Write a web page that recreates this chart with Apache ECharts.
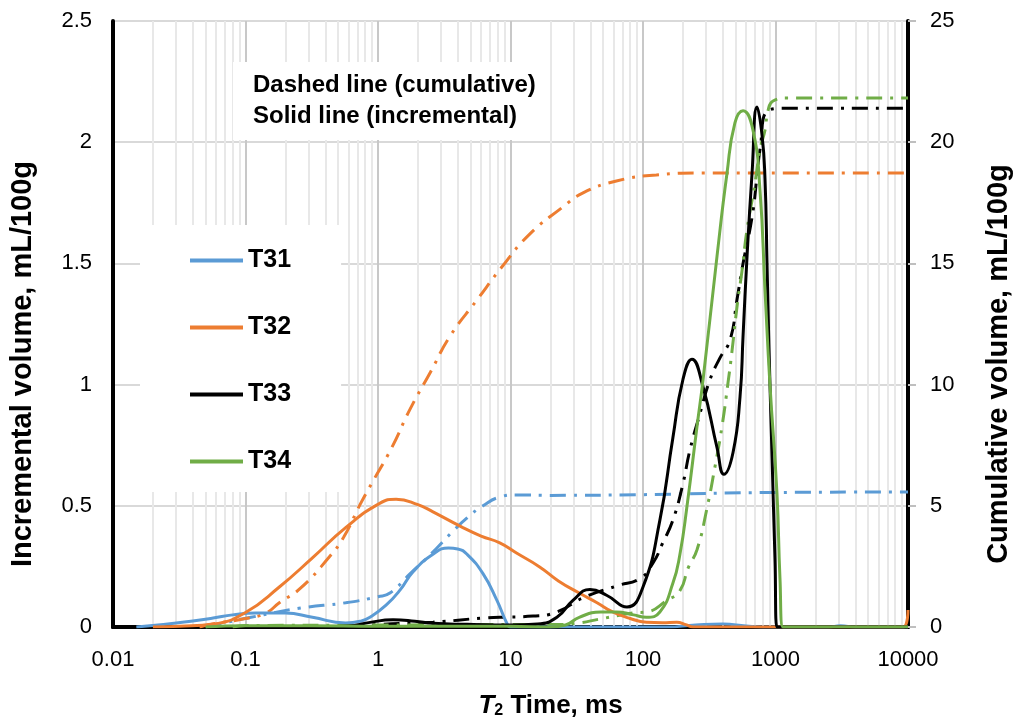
<!DOCTYPE html>
<html>
<head>
<meta charset="utf-8">
<script src="https://cdn.jsdelivr.net/npm/echarts@6/dist/echarts.min.js"></script>
<style>html,body{margin:0;padding:0;background:#fff}#c{width:1014px;height:724px}</style>
</head>
<body>
<div id="c"></div>
<script>
// ---- data: [T2 time (ms), volume] ----
var seriesNames = ['T31', 'T32', 'T33', 'T34'];
var xTicks = [0.01, 0.1, 1, 10, 100, 1000, 10000];

var t31Inc = [[0.015,0],[0.024,0.01],[0.04,0.025],[0.057,0.037],[0.08,0.05],[0.12,0.058],[0.2,0.058],[0.32,0.04],[0.57,0.017],[0.75,0.025],[0.87,0.04],[1.15,0.09],[1.47,0.153],[1.84,0.228],[2.6,0.3],[3.4,0.326],[4.0,0.322],[4.7,0.3],[6.2,0.22],[7.9,0.11],[9.4,0.015],[10,0],[150,0],[250,0.008],[400,0.012],[600,0.004],[800,0],[2500,0],[3100,0.005],[4000,0],[10000,0]];
var t31Cum = [[0.05,0],[0.068,0.16],[0.11,0.4],[0.26,0.78],[0.57,1.0],[1.0,1.25],[1.23,1.4],[1.75,2.2],[2.5,3.0],[3.6,3.9],[4.7,4.5],[6.2,5.0],[8.3,5.36],[11,5.45],[20,5.43],[100,5.46],[1000,5.55],[10000,5.57]];

var t32Inc = [[0.02,0],[0.032,0.003],[0.057,0.012],[0.1,0.06],[0.18,0.165],[0.32,0.285],[0.57,0.41],[1.03,0.51],[1.37,0.527],[2.0,0.505],[2.6,0.475],[4.2,0.415],[6,0.375],[8.3,0.347],[11.1,0.305],[16.6,0.248],[23,0.19],[33,0.14],[45,0.1],[59,0.062],[80,0.035],[106,0.02],[140,0.018],[180,0.02],[210,0.01],[240,0],[9200,0],[10000,0.07]];
var t32Cum = [[0.045,0],[0.06,0.15],[0.1,0.35],[0.143,0.58],[0.18,1.0],[0.26,1.6],[0.43,2.9],[0.55,3.7],[0.74,5.1],[0.9,5.94],[1.27,7.4],[1.75,9.0],[2.48,10.5],[3.5,12.0],[5.6,13.5],[8.6,14.85],[13.9,16.2],[24.5,17.3],[35,17.9],[63,18.4],[126,18.65],[270,18.73],[10000,18.73]];

var t33Inc = [[0.3,0],[0.6,0.004],[0.85,0.018],[1.3,0.03],[1.9,0.024],[2.6,0.015],[4.7,0.011],[10,0.008],[16,0.012],[22.4,0.04],[29.6,0.11],[39.8,0.155],[53.5,0.13],[75.7,0.083],[100,0.165],[134,0.44],[168,0.78],[200,1.02],[234,1.105],[284,0.99],[362,0.74],[408,0.63],[478,0.72],[540,0.95],[569,1.2],[610,1.53],[665,1.87],[725,2.145],[791,2.03],[833,1.85],[863,1.5],[893,1.15],[942,0.7],[991,0.28],[1026,0],[10000,0]];
var t33Cum = [[0.6,0],[1.0,0.1],[2.6,0.2],[6.2,0.37],[8.3,0.4],[14.8,0.45],[22.4,0.62],[35.2,1.2],[63.7,1.7],[94.9,2.0],[119,2.64],[141,3.47],[168,4.4],[200,5.9],[226,7.3],[269,8.8],[320,10.2],[381,11.1],[454,11.84],[512,13.5],[569,15.0],[665,16.9],[725,18.6],[764,19.7],[878,21.3],[1222,21.4],[10000,21.4]];

var t34Inc = [[0.05,0],[0.1,0.005],[0.3,0.005],[1,0.003],[10,0.003],[20,0],[26,0.008],[33,0.04],[48,0.062],[63,0.062],[85,0.05],[106,0.04],[134,0.062],[168,0.18],[190,0.3],[215,0.5],[256,0.83],[284,1.02],[362,1.53],[430,1.87],[494,2.08],[569,2.13],[676,2.05],[764,1.80],[833,1.39],[908,1.0],[1026,0.55],[1081,0.2],[1140,0],[10000,0]];
var t34Cum = [[0.08,0],[0.1,0.06],[1,0.08],[10,0.1],[20,0.1],[31.8,0.16],[47.3,0.33],[84.1,0.58],[106,0.62],[152,1.1],[190,1.5],[219,2.43],[256,3.2],[304,4.9],[349,6.6],[394,8.25],[438,10.07],[470,11.4],[512,13.2],[559,14.7],[610,16.4],[700,18.3],[764,19.7],[833,20.5],[878,21.3],[958,21.7],[1222,21.82],[10000,21.82]];

var colors = ['#5B9BD5', '#ED7D31', '#000000', '#70AD47'];
var incData = [t31Inc, t32Inc, t33Inc, t34Inc];
var cumData = [t31Cum, t32Cum, t33Cum, t34Cum];

var FONT = 'Liberation Sans, Arial, sans-serif';

// minor log grid lines (2..9 per decade)
var minorLines = [];
for (var d = -2; d < 4; d++) {
  for (var m = 2; m <= 9; m++) {
    minorLines.push({ xAxis: +(m * Math.pow(10, d)).toPrecision(6) });
  }
}

var series = [{
  name: 'minorGrid', type: 'line', data: [[0.01, 0]], z: 1, silent: true,
  symbol: 'none', lineStyle: { opacity: 0 }, animation: false,
  markLine: {
    z: 1, silent: true, symbol: ['none', 'none'], animation: false,
    label: { show: false }, emphasis: { disabled: true },
    lineStyle: { color: '#e8e8e8', width: 2, type: 'solid' },
    data: minorLines
  }
}];

for (var i = 0; i < 4; i++) {
  series.push({
    name: seriesNames[i] + ' cumulative', type: 'line', yAxisIndex: 1,
    data: cumData[i], smooth: 0.5, symbol: 'none', showSymbol: false,
    lineStyle: { color: colors[i], width: 3, type: [16, 8, 3, 8] },
    itemStyle: { color: colors[i] }, z: 3
  });
}
for (var j = 0; j < 4; j++) {
  series.push({
    name: seriesNames[j], type: 'line', yAxisIndex: 0,
    data: incData[j], smooth: 0.5, symbol: 'none', showSymbol: false,
    lineStyle: { color: colors[j], width: 3, type: 'solid' },
    itemStyle: { color: colors[j] }, z: 4
  });
}

var legendData = seriesNames.map(function (n, k) {
  return { name: n, icon: 'rect', itemStyle: { color: colors[k], borderWidth: 0 } };
});

var blackLine = { show: true, lineStyle: { color: '#000', width: 4 } };

var chart = echarts.init(document.getElementById('c'), null, { renderer: 'canvas' });
chart.setOption({
  animation: false,
  backgroundColor: '#fff',
  textStyle: { fontFamily: FONT },
  grid: { left: 113, right: 106, top: 21, bottom: 97, containLabel: false, outerBoundsMode: 'none' },
  title: {
    text: 'Dashed line (cumulative)\nSolid line (incremental)', z: 10,
    left: 233, top: 62, backgroundColor: '#fff', padding: [8, 13, 8, 20],
    textStyle: { fontFamily: FONT, fontSize: 24, fontWeight: 'bold', lineHeight: 31, color: '#000' }
  },
  legend: {
    data: legendData, orient: 'vertical', left: 140, top: 225, z: 10,
    backgroundColor: '#fff', padding: [23, 50, 18, 50],
    itemWidth: 53, itemHeight: 4, itemGap: 42,
    textStyle: { fontFamily: FONT, fontSize: 25, fontWeight: 'bold', color: '#000' }
  },
  xAxis: [{
    type: 'log', logBase: 10, min: xTicks[0], max: xTicks[xTicks.length - 1], position: 'bottom',
    axisLine: blackLine, axisTick: { show: false },
    axisLabel: { fontFamily: FONT, fontSize: 22, color: '#000', margin: 22,
      formatter: function (v) { return String(+(+v).toPrecision(4)); } },
    splitLine: { show: true, lineStyle: { color: '#c8c8c8', width: 2 } },
    name: '{i|T}{s|2}{b| Time, ms}', nameLocation: 'middle', nameGap: 65,
    nameTextStyle: {
      padding: [0, 0, 0, 80],
      rich: {
        i: { fontFamily: FONT, fontSize: 26, fontWeight: 'bold', fontStyle: 'italic', color: '#000' },
        s: { fontFamily: FONT, fontSize: 16, fontWeight: 'bold', color: '#000', verticalAlign: 'bottom', padding: [11, 0, 0, 0] },
        b: { fontFamily: FONT, fontSize: 26, fontWeight: 'bold', color: '#000' }
      }
    }
  }, {
    type: 'log', logBase: 10, min: xTicks[0], max: xTicks[xTicks.length - 1], position: 'top',
    axisLine: blackLine, axisTick: { show: false }, axisLabel: { show: false }, splitLine: { show: false }
  }],
  yAxis: [{
    type: 'value', min: 0, max: 2.5, interval: 0.5, position: 'left',
    axisLine: blackLine, axisTick: { show: false },
    axisLabel: { fontFamily: FONT, fontSize: 22, color: '#000', margin: 21 },
    splitLine: { show: true, lineStyle: { color: '#d9d9d9', width: 2 } },
    name: 'Incremental volume, mL/100g', nameLocation: 'middle', nameGap: 76, nameRotate: 90,
    nameTextStyle: { fontFamily: FONT, fontSize: 29, fontWeight: 'bold', color: '#000', padding: [0, 80, 0, 0] }
  }, {
    type: 'value', min: 0, max: 25, interval: 5, position: 'right',
    axisLine: blackLine,
    axisTick: { show: true, length: 8, lineStyle: { color: '#bfbfbf', width: 2 } },
    axisLabel: { fontFamily: FONT, fontSize: 22, color: '#000', margin: 22 },
    splitLine: { show: false },
    name: 'Cumulative volume, mL/100g', nameLocation: 'middle', nameGap: 76, nameRotate: 90,
    nameTextStyle: { fontFamily: FONT, fontSize: 29, fontWeight: 'bold', color: '#000', padding: [0, 80, 0, 0] }
  }],
  series: series
});
</script>
</body>
</html>
